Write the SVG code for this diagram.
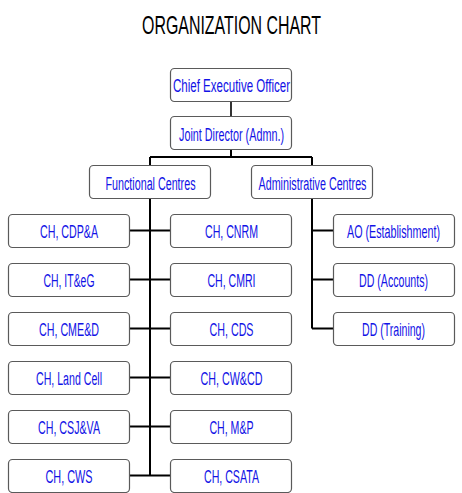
<svg xmlns="http://www.w3.org/2000/svg" width="462" height="493" viewBox="0 0 462 493">
<style>
.box{fill:#fff;stroke:#5a5a5a;stroke-width:1.2}
.t{font-family:"Liberation Sans",Arial,sans-serif;font-size:18px;fill:#1212e6;text-anchor:middle}
.title{font-family:"Liberation Sans",Arial,sans-serif;font-size:26px;fill:#000;text-anchor:middle}
.c{stroke:#000;stroke-width:2;fill:none}
</style>
<rect width="462" height="493" fill="#fff"/>
<text class="title" x="231.5" y="34" textLength="179" lengthAdjust="spacingAndGlyphs">ORGANIZATION CHART</text>
<g id="connectors">
<path class="c" d="M231,101V117" style="stroke-width:1.6"/>
<path class="c" d="M231,149V157 M150,157H312 M150,157V166 M312,157V166"/>
<path class="c" d="M150,198V476 M129,230.5H170 M129,279.5H170 M129,328.5H170 M129,377.5H170 M129,426.5H170 M129,475.5H170"/>
<path class="c" d="M312,198V328.5 M312,230.5H333 M312,279.5H333 M312,328.5H333"/>
</g>
<g id="ceo"><rect class="box" x="170.5" y="68.5" width="121" height="33" rx="4"/><text class="t" x="231.5" y="91.5" textLength="117" lengthAdjust="spacingAndGlyphs">Chief Executive Officer</text></g>
<g id="jd"><rect class="box" x="170.5" y="116.5" width="121" height="33" rx="4"/><text class="t" x="231.5" y="140.5" textLength="105" lengthAdjust="spacingAndGlyphs">Joint Director (Admn.)</text></g>
<g id="functional"><rect class="box" x="89.5" y="165.5" width="121" height="33" rx="4"/><text class="t" x="150.5" y="189.5" textLength="90" lengthAdjust="spacingAndGlyphs">Functional Centres</text></g>
<g id="administrative"><rect class="box" x="251.5" y="165.5" width="121" height="33" rx="4"/><text class="t" x="312.5" y="189.5" textLength="108" lengthAdjust="spacingAndGlyphs">Administrative Centres</text></g>

<g id="cdpa"><rect class="box" x="8.5" y="214.5" width="121" height="33" rx="4"/><text class="t" x="69" y="238" textLength="58" lengthAdjust="spacingAndGlyphs">CH, CDP&amp;A</text></g>
<g id="iteg"><rect class="box" x="8.5" y="263.5" width="121" height="33" rx="4"/><text class="t" x="69" y="287" textLength="51" lengthAdjust="spacingAndGlyphs">CH, IT&amp;eG</text></g>
<g id="cmed"><rect class="box" x="8.5" y="312.5" width="121" height="33" rx="4"/><text class="t" x="69" y="336" textLength="60" lengthAdjust="spacingAndGlyphs">CH, CME&amp;D</text></g>
<g id="landcell"><rect class="box" x="8.5" y="361.5" width="121" height="33" rx="4"/><text class="t" x="69" y="385" textLength="66" lengthAdjust="spacingAndGlyphs">CH, Land Cell</text></g>
<g id="csjva"><rect class="box" x="8.5" y="410.5" width="121" height="33" rx="4"/><text class="t" x="69" y="434" textLength="62" lengthAdjust="spacingAndGlyphs">CH, CSJ&amp;VA</text></g>
<g id="cws"><rect class="box" x="8.5" y="459.5" width="121" height="33" rx="4"/><text class="t" x="69" y="483" textLength="47" lengthAdjust="spacingAndGlyphs">CH, CWS</text></g>

<g id="cnrm"><rect class="box" x="170.5" y="214.5" width="121" height="33" rx="4"/><text class="t" x="231.5" y="238" textLength="53" lengthAdjust="spacingAndGlyphs">CH, CNRM</text></g>
<g id="cmri"><rect class="box" x="170.5" y="263.5" width="121" height="33" rx="4"/><text class="t" x="231.5" y="287" textLength="48" lengthAdjust="spacingAndGlyphs">CH, CMRI</text></g>
<g id="cds"><rect class="box" x="170.5" y="312.5" width="121" height="33" rx="4"/><text class="t" x="231.5" y="336" textLength="44" lengthAdjust="spacingAndGlyphs">CH, CDS</text></g>
<g id="cwcd"><rect class="box" x="170.5" y="361.5" width="121" height="33" rx="4"/><text class="t" x="231.5" y="385" textLength="62" lengthAdjust="spacingAndGlyphs">CH, CW&amp;CD</text></g>
<g id="mp"><rect class="box" x="170.5" y="410.5" width="121" height="33" rx="4"/><text class="t" x="231.5" y="434" textLength="44" lengthAdjust="spacingAndGlyphs">CH, M&amp;P</text></g>
<g id="csata"><rect class="box" x="170.5" y="459.5" width="121" height="33" rx="4"/><text class="t" x="231.5" y="483" textLength="55" lengthAdjust="spacingAndGlyphs">CH, CSATA</text></g>

<g id="ao"><rect class="box" x="333.5" y="214.5" width="121" height="33" rx="4"/><text class="t" transform="translate(393.5,238) scale(0.6,1)" x="0" y="0" textLength="155" lengthAdjust="spacingAndGlyphs">AO (Establishment)</text></g>
<g id="accounts"><rect class="box" x="333.5" y="263.5" width="121" height="33" rx="4"/><text class="t" transform="translate(393.5,287) scale(0.6,1)" x="0" y="0" textLength="115" lengthAdjust="spacingAndGlyphs">DD (Accounts)</text></g>
<g id="training"><rect class="box" x="333.5" y="312.5" width="121" height="33" rx="4"/><text class="t" transform="translate(393.5,336) scale(0.6,1)" x="0" y="0" textLength="105" lengthAdjust="spacingAndGlyphs">DD (Training)</text></g>
</svg>
